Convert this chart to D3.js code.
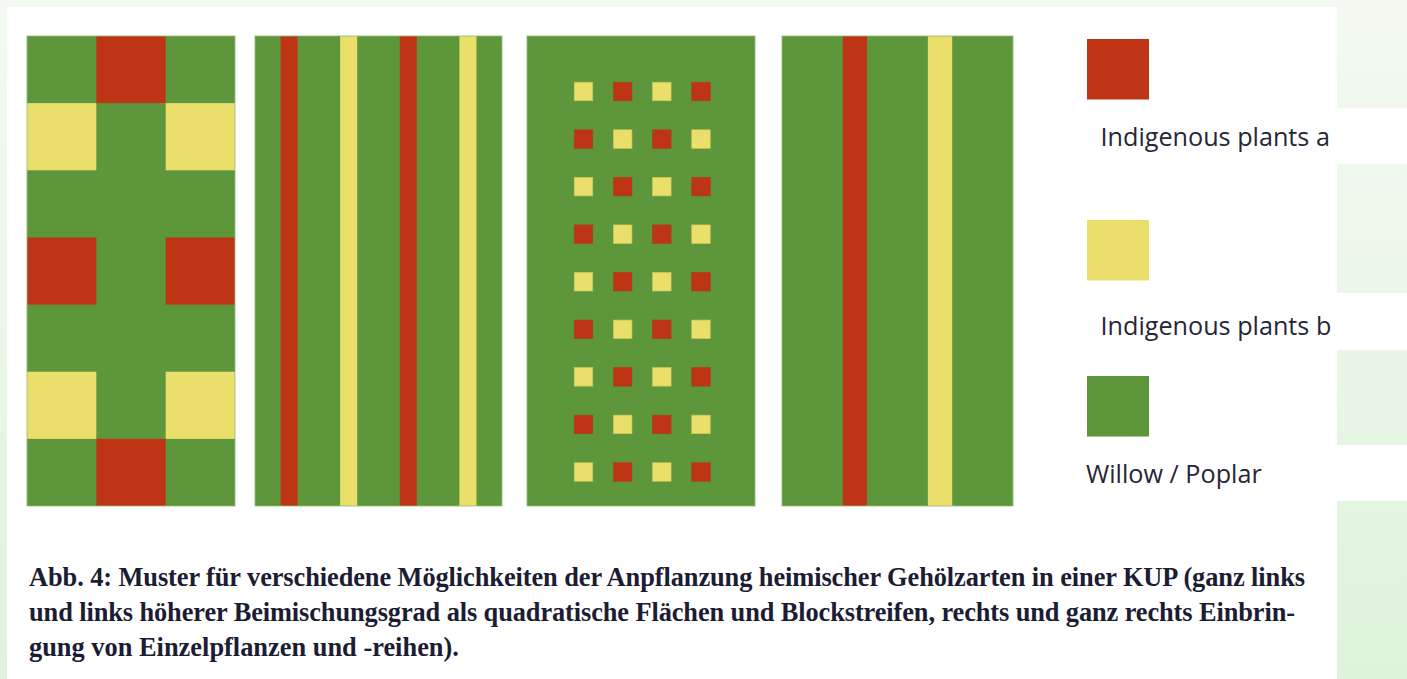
<!DOCTYPE html>
<html>
<head>
<meta charset="utf-8">
<script src="https://cdn.jsdelivr.net/npm/d3@7"></script>
<style>
  html, body { margin: 0; padding: 0; background: #ffffff; }
  svg { display: block; }
</style>
</head>
<body>
<svg id="chart" width="1407" height="679"></svg>
<script>
// ---------- DATA ----------
// Species codes: "R" = Indigenous plants a, "Y" = Indigenous plants b, "G" = Willow / Poplar
const speciesKeys = ["R", "Y", "G"];
const speciesLabels = ["Indigenous plants a", "Indigenous plants b", "Willow / Poplar"];

// Panel 1: block pattern (7 rows x 3 columns)
const blockRows = [
  ["G", "R", "G"],
  ["Y", "G", "Y"],
  ["G", "G", "G"],
  ["R", "G", "R"],
  ["G", "G", "G"],
  ["Y", "G", "Y"],
  ["G", "R", "G"]
];

// Panel 2: strip pattern (species, relative width)
const stripSpecies = ["G", "R", "G", "Y", "G", "R", "G", "Y", "G"];
const stripWidths  = [1.5, 1, 2.5, 1, 2.5, 1, 2.5, 1, 1.5];

// Panel 3: single plants (9 rows x 4 columns)
const dotRows = [
  ["Y", "R", "Y", "R"],
  ["R", "Y", "R", "Y"],
  ["Y", "R", "Y", "R"],
  ["R", "Y", "R", "Y"],
  ["Y", "R", "Y", "R"],
  ["R", "Y", "R", "Y"],
  ["Y", "R", "Y", "R"],
  ["R", "Y", "R", "Y"],
  ["Y", "R", "Y", "R"]
];

// Panel 4: single rows (species, relative width)
const rowSpecies = ["G", "R", "G", "Y", "G"];
const rowWidths  = [2.5, 1, 2.5, 1, 2.5];

const captionLines = [
  "Abb. 4: Muster für verschiedene Möglichkeiten der Anpflanzung heimischer Gehölzarten in einer KUP (ganz links",
  "und links höherer Beimischungsgrad als quadratische Flächen und Blockstreifen, rechts und ganz rechts Einbrin-",
  "gung von Einzelpflanzen und -reihen)."
];

// ---------- STYLE / LAYOUT ----------
const color = d3.scaleOrdinal().domain(speciesKeys).range(["#be3516", "#ebdf6b", "#5e963b"]);
const svg = d3.select("#chart");
const panelTop = 36, panelBottom = 506;

// page background
svg.append("rect").attr("width", 1407).attr("height", 679).attr("fill", "#f3faf1");
const defs = svg.append("defs");
const lg = defs.append("linearGradient").attr("id", "sideGrad").attr("x1", 0).attr("y1", 0).attr("x2", 0).attr("y2", 1);
lg.append("stop").attr("offset", "0%").attr("stop-color", "#f4faf2");
lg.append("stop").attr("offset", "100%").attr("stop-color", "#dff3dc");
svg.append("rect").attr("x", 0).attr("y", 0).attr("width", 7).attr("height", 679).attr("fill", "url(#sideGrad)");
svg.append("rect").attr("x", 1337).attr("y", 0).attr("width", 70).attr("height", 679).attr("fill", "url(#sideGrad)");
// white gaps on right side
[[108, 164], [293, 350], [445, 501]].forEach(([a, b]) =>
  svg.append("rect").attr("x", 1337).attr("y", a).attr("width", 70).attr("height", b - a).attr("fill", "#ffffff"));
// white card
svg.append("rect").attr("x", 7).attr("y", 7).attr("width", 1330).attr("height", 672).attr("fill", "#ffffff");

const edge = "#8fbb74";

// ---------- Panel 1 ----------
{
  const x = d3.scaleBand().domain(d3.range(3)).range([27, 235]);
  const y = d3.scaleBand().domain(d3.range(blockRows.length)).range([panelTop, panelBottom]);
  const g = svg.append("g");
  g.append("rect").attr("x", 27).attr("y", panelTop).attr("width", 208).attr("height", panelBottom - panelTop)
    .attr("fill", color("G"));
  const cells = blockRows.flatMap((row, r) => row.map((s, c) => ({ r, c, s }))).filter(d => d.s !== "G");
  g.selectAll("rect.cell").data(cells).join("rect").attr("class", "cell")
    .attr("x", d => x(d.c)).attr("y", d => y(d.r))
    .attr("width", x.bandwidth()).attr("height", y.bandwidth())
    .attr("fill", d => color(d.s));
  g.append("rect").attr("x", 27).attr("y", panelTop).attr("width", 208).attr("height", panelBottom - panelTop)
    .attr("fill", "none").attr("stroke", edge).attr("stroke-width", 0.8);
}

// ---------- strip helper ----------
function strips(species, widths, x0, x1) {
  const cum = d3.cumsum(widths);
  const starts = [0, ...Array.from(cum).slice(0, -1)];
  const x = d3.scaleLinear().domain([0, d3.sum(widths)]).range([x0, x1]);
  const g = svg.append("g");
  g.append("rect").attr("x", x0).attr("y", panelTop).attr("width", x1 - x0).attr("height", panelBottom - panelTop)
    .attr("fill", color("G"));
  g.selectAll("rect.strip").data(species.map((s, i) => ({ s, a: starts[i], b: cum[i] })).filter(d => d.s !== "G"))
    .join("rect").attr("class", "strip")
    .attr("x", d => x(d.a)).attr("y", panelTop)
    .attr("width", d => x(d.b) - x(d.a)).attr("height", panelBottom - panelTop)
    .attr("fill", d => color(d.s));
  g.append("rect").attr("x", x0).attr("y", panelTop).attr("width", x1 - x0).attr("height", panelBottom - panelTop)
    .attr("fill", "none").attr("stroke", edge).attr("stroke-width", 0.8);
}

// ---------- Panel 2 ----------
strips(stripSpecies, stripWidths, 255, 502);

// ---------- Panel 3 ----------
{
  const g = svg.append("g");
  g.append("rect").attr("x", 527).attr("y", panelTop).attr("width", 228).attr("height", panelBottom - panelTop)
    .attr("fill", color("G")).attr("stroke", edge).attr("stroke-width", 0.8);
  const x = d3.scalePoint().domain(d3.range(4)).range([583.5, 701]);
  const y = d3.scalePoint().domain(d3.range(dotRows.length)).range([91.5, 472]);
  const s = 18.5;
  const cells = dotRows.flatMap((row, r) => row.map((sp, c) => ({ r, c, sp })));
  g.selectAll("rect.dot").data(cells).join("rect").attr("class", "dot")
    .attr("x", d => x(d.c) - s / 2).attr("y", d => y(d.r) - s / 2)
    .attr("width", s).attr("height", s)
    .attr("fill", d => color(d.sp))
    .attr("stroke", d => d.sp === "Y" ? "#c9c85a" : "#a8421c").attr("stroke-width", 0.7);
}

// ---------- Panel 4 ----------
strips(rowSpecies, rowWidths, 782, 1013);

// ---------- Legend ----------
{
  const ly = d3.scaleOrdinal().domain(speciesKeys).range([39, 220, 376]);
  const tx = d3.scaleOrdinal().domain(speciesKeys).range([1100.5, 1100.5, 1086]);
  const ty = d3.scaleOrdinal().domain(speciesKeys).range([146, 335, 483]);
  const g = svg.append("g");
  g.selectAll("rect").data(speciesKeys).join("rect")
    .attr("x", 1087).attr("y", d => ly(d)).attr("width", 62).attr("height", 60.5)
    .attr("fill", d => color(d));
  g.selectAll("text").data(speciesKeys).join("text")
    .attr("x", d => tx(d)).attr("y", d => ty(d))
    .attr("font-family", "'Open Sans', Lato, sans-serif").attr("font-size", 25.2)
    .attr("fill", "#262636")
    .text((d, i) => speciesLabels[i]);
}

// ---------- Caption ----------
{
  const baselines = [586, 620.5, 655.5];
  const lens = [1276, 1266, null];
  const g = svg.append("g");
  captionLines.forEach((t, i) => {
    const el = g.append("text").attr("x", 29).attr("y", baselines[i])
      .attr("font-family", "'Liberation Serif', 'DejaVu Serif', serif")
      .attr("font-weight", "bold").attr("font-size", 26.4)
      .attr("fill", "#1c1c33").text(t);
    if (lens[i]) el.attr("textLength", lens[i]).attr("lengthAdjust", "spacing");
  });
}
</script>
</body>
</html>
